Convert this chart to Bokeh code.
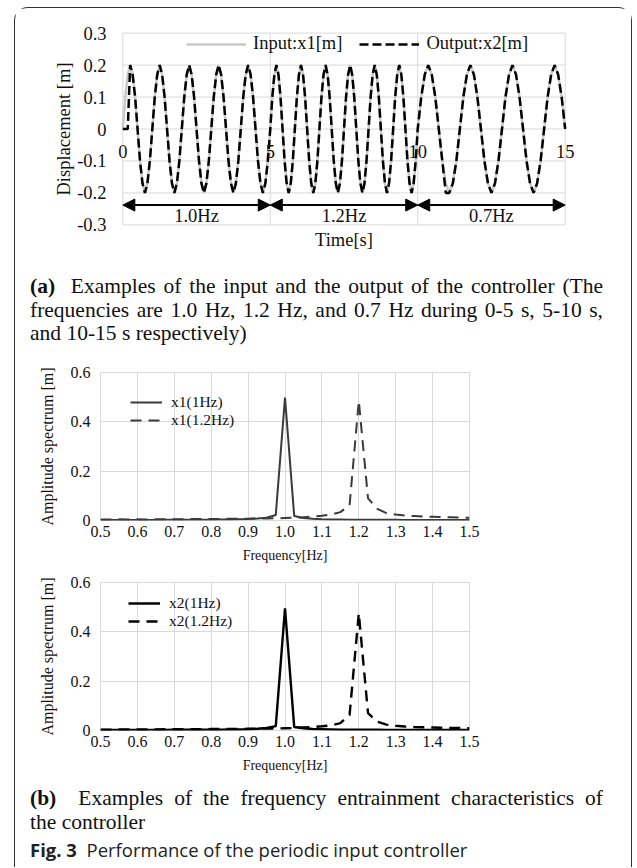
import numpy as np
from bokeh.plotting import figure
from bokeh.models import (ColumnDataSource, Legend, LegendItem, LinearAxis, FixedTicker,
                          CustomJSTickFormatter, Arrow, NormalHead, Div, Range1d)
from bokeh.layouts import column
from bokeh.embed import file_html
from bokeh.resources import INLINE
from bokeh.core.properties import value

SERIF = "Liberation Serif"

# ---------------- (a) time response data ----------------
seg_bounds = [0, 5, 10, 15]
seg_labels = ["1.0Hz", "1.2Hz", "0.7Hz"]
time_ticks = [0, 5, 10, 15]
disp_ticks = [-0.3, -0.2, -0.1, 0, 0.1, 0.2, 0.3]

# sample instants: 12 samples per period in every segment
t_seg1 = np.linspace(0, 5, 61)
t_seg2 = np.linspace(5, 10, 73)[1:]
t_seg3 = np.linspace(10, 15, 43)[1:]

# input x1 [m]
x1_seg1 = [0, .1, .17, .2, .17, .1, 0, -.1, -.17, -.2, -.17, -.1,
           0, .1, .17, .2, .17, .1, 0, -.1, -.17, -.2, -.17, -.1,
           0, .1, .17, .2, .17, .1, 0, -.1, -.17, -.2, -.17, -.1,
           0, .1, .17, .2, .17, .1, 0, -.1, -.17, -.2, -.17, -.1,
           0, .1, .17, .2, .17, .1, 0, -.1, -.17, -.2, -.17, -.1, 0]
x1_seg2 = [.1, .17, .2, .17, .1, 0, -.1, -.17, -.2, -.17, -.1, 0,
           .1, .17, .2, .17, .1, 0, -.1, -.17, -.2, -.17, -.1, 0,
           .1, .17, .2, .17, .1, 0, -.1, -.17, -.2, -.17, -.1, 0,
           .1, .17, .2, .17, .1, 0, -.1, -.17, -.2, -.17, -.1, 0,
           .1, .17, .2, .17, .1, 0, -.1, -.17, -.2, -.17, -.1, 0,
           .1, .17, .2, .17, .1, 0, -.1, -.17, -.2, -.17, -.1, 0]
x1_seg3 = [.1, .17, .2, .17, .1, 0, -.1, -.17, -.2, -.17, -.1, 0,
           .1, .17, .2, .17, .1, 0, -.1, -.17, -.2, -.17, -.1, 0,
           .1, .17, .2, .17, .1, 0, -.1, -.17, -.2, -.17, -.1, 0,
           .1, .17, .2, .17, .1, 0]

# output x2 [m]
x2_seg1 = [0, 0, 0, .2, .17, .1, 0, -.1, -.17, -.2, -.17, -.1,
           0, .1, .17, .2, .17, .1, 0, -.1, -.17, -.2, -.17, -.1,
           0, .1, .17, .2, .17, .1, 0, -.1, -.17, -.2, -.17, -.1,
           0, .1, .17, .2, .17, .1, 0, -.1, -.17, -.2, -.17, -.1,
           0, .1, .17, .2, .17, .1, 0, -.1, -.17, -.2, -.17, -.1, 0]
x2_seg2 = [.1, .17, .2, .17, .1, 0, -.1, -.17, -.2, -.17, -.1, 0,
           .1, .17, .2, .17, .1, 0, -.1, -.17, -.2, -.17, -.1, 0,
           .1, .17, .2, .17, .1, 0, -.1, -.17, -.2, -.17, -.1, 0,
           .1, .17, .2, .17, .1, 0, -.1, -.17, -.2, -.17, -.1, 0,
           .1, .17, .2, .17, .1, 0, -.1, -.17, -.2, -.17, -.1, 0,
           .1, .17, .2, .17, .1, 0, -.1, -.17, -.2, -.17, -.1, 0]
x2_seg3 = [.1, .17, .2, .17, .1, 0, -.1, -.2, -.2, -.17, -.1, 0,
           .1, .17, .2, .17, .1, 0, -.1, -.17, -.2, -.17, -.1, 0,
           .1, .17, .2, .17, .1, 0, -.1, -.17, -.2, -.17, -.1, 0,
           .1, .17, .2, .17, .1, 0]

# ---------------- (b) amplitude spectra data ----------------
freq = [0.5, 0.525, 0.55, 0.575, 0.6, 0.625, 0.65, 0.675, 0.7, 0.725, 0.75,
        0.775, 0.8, 0.825, 0.85, 0.875, 0.9, 0.925, 0.95, 0.975, 1.0,
        1.025, 1.05, 1.075, 1.1, 1.125, 1.15, 1.175, 1.2, 1.225, 1.25,
        1.275, 1.3, 1.325, 1.35, 1.375, 1.4, 1.425, 1.45, 1.475, 1.5]
freq_ticks = [0.5, 0.6, 0.7, 0.8, 0.9, 1.0, 1.1, 1.2, 1.3, 1.4, 1.5]
amp_ticks = [0, 0.2, 0.4, 0.6]

x1_1hz = [.002, .002, .002, .002, .002, .002, .002, .003, .003, .003, .003,
          .003, .003, .004, .004, .005, .006, .008, .011, .022, .498,
          .018, .010, .007, .005, .004, .004, .003, .003, .003, .003,
          .003, .003, .002, .002, .002, .002, .002, .002, .002, .002]
x1_12hz = [.004, .004, .005, .004, .005, .004, .005, .005, .005, .005, .006,
           .006, .006, .006, .007, .007, .007, .008, .008, .009, .010,
           .011, .013, .016, .019, .024, .034, .062, .485, .090, .047,
           .030, .024, .020, .018, .016, .015, .014, .013, .012, .011]
x2_1hz = [.002, .002, .002, .002, .002, .002, .002, .002, .003, .003, .003,
          .003, .003, .003, .004, .004, .005, .007, .010, .018, .495,
          .014, .009, .006, .005, .004, .003, .003, .003, .003, .003,
          .002, .002, .002, .002, .002, .002, .002, .002, .002, .002]
x2_12hz = [.003, .003, .004, .004, .004, .004, .004, .005, .005, .005, .005,
           .005, .006, .006, .006, .006, .007, .007, .008, .008, .009,
           .010, .012, .014, .017, .021, .030, .063, .475, .070, .036,
           .024, .019, .016, .014, .013, .012, .011, .010, .010, .009]

GRID = "#d9d9d9"


def style_axis(ax, size):
    ax.axis_line_color = None
    ax.major_tick_line_color = None
    ax.minor_tick_line_color = None
    ax.major_tick_out = 0
    ax.major_tick_in = 0
    ax.major_label_text_font = SERIF
    ax.major_label_text_font_size = size
    ax.major_label_text_color = "#111111"
    ax.axis_label_text_font = SERIF
    ax.axis_label_text_font_style = "normal"
    ax.axis_label_text_color = "#111111"


# ---------------- figure (a) ----------------
# the frame is a little wider than the 0-15 s grid so that the "0" and "15"
# labels drawn on the zero line are not cut by the frame
p1 = figure(width=616, height=254, x_range=Range1d(-0.35, 15.35), y_range=Range1d(-0.305, 0.305),
            output_backend="svg", toolbar_location=None, frame_align=False,
            min_border_left=97, min_border_right=56, min_border_top=23, min_border_bottom=36)
p1.outline_line_color = None
p1.grid.visible = False
# grid box limited to 0-15 s / -0.3..0.3 m
p1.segment(x0=time_ticks, x1=time_ticks, y0=[disp_ticks[0]] * len(time_ticks),
           y1=[disp_ticks[-1]] * len(time_ticks), line_color=GRID, line_width=1)
p1.segment(x0=[time_ticks[0]] * len(disp_ticks), x1=[time_ticks[-1]] * len(disp_ticks),
           y0=disp_ticks, y1=disp_ticks, line_color=GRID, line_width=1)

# bottom axis: only the title
p1.xaxis.ticker = FixedTicker(ticks=[])
style_axis(p1.xaxis[0], "18.5px")
p1.xaxis.axis_label = "Time[s]"
p1.xaxis.axis_label_text_font_size = "18.5px"
p1.xaxis.major_label_standoff = 0
p1.xaxis.axis_label_standoff = 3

# tick labels sitting on the zero line
ax0 = LinearAxis(fixed_location=0, ticker=FixedTicker(ticks=time_ticks))
style_axis(ax0, "18.5px")
ax0.major_label_standoff = 16
p1.add_layout(ax0, "below")

p1.yaxis.ticker = FixedTicker(ticks=disp_ticks)
p1.yaxis.formatter = CustomJSTickFormatter(code="return Math.abs(tick) < 1e-9 ? '0' : tick.toFixed(1);")
style_axis(p1.yaxis[0], "18.5px")
p1.yaxis.major_label_standoff = 6
p1.yaxis.axis_label = "Displacement [m]"
p1.yaxis.axis_label_text_font_size = "18.5px"
p1.yaxis.axis_label_standoff = 0

t_all = list(t_seg1) + list(t_seg2) + list(t_seg3)
src_a = ColumnDataSource(dict(t=t_all, x1=x1_seg1 + x1_seg2 + x1_seg3, x2=x2_seg1 + x2_seg2 + x2_seg3))
r_in = p1.line("t", "x1", source=src_a, line_color="#c8c8c8", line_width=2.5)
r_out = p1.line("t", "x2", source=src_a, line_color="black", line_width=2.5, line_dash="9 4")

ARROW_Y = -0.238
LABEL_Y = -0.272
arr_src = ColumnDataSource(dict(xs=seg_bounds[:-1], xe=seg_bounds[1:],
                                y=[ARROW_Y] * len(seg_labels)))
arrow = Arrow(source=arr_src, x_start="xs", x_end="xe", y_start="y", y_end="y",
              line_width=2, line_color="black",
              start=NormalHead(size=12, fill_color="black", line_color="black"),
              end=NormalHead(size=12, fill_color="black", line_color="black"))
p1.add_layout(arrow)
mid = [(a + b) / 2 for a, b in zip(seg_bounds[:-1], seg_bounds[1:])]
p1.text(x=mid, y=[LABEL_Y] * len(mid), text=seg_labels, text_align="center",
        text_baseline="middle", text_font=value(SERIF), text_font_size="18.5px",
        text_color="#111111")

leg1 = Legend(items=[LegendItem(label="Input:x1[m]", renderers=[r_in]),
                     LegendItem(label="Output:x2[m]", renderers=[r_out])],
              orientation="horizontal", location=(74, 172), glyph_width=60, glyph_height=16,
              label_height=16, label_standoff=7, spacing=17, padding=0, margin=0,
              background_fill_alpha=0, border_line_alpha=0,
              label_text_font=SERIF, label_text_font_size="18.5px", label_text_color="#111111")
p1.add_layout(leg1)


# ---------------- figures (b) ----------------
def spectrum_fig(height, top, solid_vals, dash_vals, color, lw, labels, loc):
    p = figure(width=616, height=height, x_range=Range1d(0.5, 1.5), y_range=Range1d(0, 0.6),
               output_backend="svg", toolbar_location=None, frame_align=False,
               min_border_left=85, min_border_right=162, min_border_top=top,
               min_border_bottom=height - top - 148)
    p.outline_line_color = GRID
    p.xgrid.ticker = FixedTicker(ticks=freq_ticks)
    p.ygrid.ticker = FixedTicker(ticks=amp_ticks)
    p.grid.grid_line_color = GRID
    p.xaxis.ticker = FixedTicker(ticks=freq_ticks)
    p.xaxis.formatter = CustomJSTickFormatter(code="return tick.toFixed(1);")
    style_axis(p.xaxis[0], "16px")
    p.xaxis.major_label_standoff = 5
    p.xaxis.axis_label = "Frequency[Hz]"
    p.xaxis.axis_label_text_font_size = "14px"
    p.xaxis.axis_label_standoff = 8
    p.yaxis.ticker = FixedTicker(ticks=amp_ticks)
    p.yaxis.formatter = CustomJSTickFormatter(code="return Math.abs(tick) < 1e-9 ? '0' : tick.toFixed(1);")
    style_axis(p.yaxis[0], "16px")
    p.yaxis.major_label_standoff = 10
    p.yaxis.axis_label = "Amplitude spectrum [m]"
    p.yaxis.axis_label_text_font_size = "16px"
    p.yaxis.axis_label_standoff = 12
    src = ColumnDataSource(dict(f=freq, a=solid_vals, b=dash_vals))
    rs = p.line("f", "a", source=src, line_color=color, line_width=lw)
    rd = p.line("f", "b", source=src, line_color=color, line_width=lw, line_dash="11 7")
    leg = Legend(items=[LegendItem(label=labels[0], renderers=[rs]),
                        LegendItem(label=labels[1], renderers=[rd])],
                 location=loc, glyph_width=32, glyph_height=14, label_height=14,
                 label_standoff=9, spacing=0, padding=0, margin=0,
                 background_fill_alpha=0, border_line_alpha=0,
                 label_text_font=SERIF, label_text_font_size="15.5px", label_text_color="#111111")
    p.add_layout(leg)
    return p


p2 = spectrum_fig(218, 22, x1_1hz, x1_12hz, "#3a3a3a", 2, ["x1(1Hz)", "x1(1.2Hz)"], (30, 91))
p3 = spectrum_fig(212, 14, x2_1hz, x2_12hz, "black", 2.4, ["x2(1Hz)", "x2(1.2Hz)"], (28, 100))

# ---------------- captions ----------------
CAP = ("font-family:'Liberation Serif',serif;font-size:21.5px;line-height:23.5px;color:#111;"
       "box-sizing:border-box;width:616px;")
J = "text-align:justify;text-align-last:justify;"
div_a = Div(width=616, height=88, margin=0, text=(
    f"<div style=\"{CAP}padding:13px 28px 0 15px;\">"
    f"<div style=\"{J}\"><b>(a)</b>&nbsp; Examples of the input and the output of the controller (The</div>"
    f"<div style=\"{J}\">frequencies are 1.0 Hz, 1.2 Hz, and 0.7 Hz during 0-5 s, 5-10 s,</div>"
    "<div>and 10-15 s respectively)</div></div>"))
div_b = Div(width=616, height=55, margin=0, text=(
    f"<div style=\"{CAP}padding:7px 28px 0 15px;\">"
    f"<div style=\"{J}\"><b>(b)</b>&nbsp; Examples of the frequency entrainment characteristics of</div>"
    "<div>the controller</div></div>"))
div_c = Div(width=616, height=32, margin=0, text=(
    "<div style=\"font-family:'Open Sans',sans-serif;font-size:18.5px;line-height:18px;"
    "color:#222;padding:6px 0 0 15px;white-space:nowrap;\">"
    "<b>Fig. 3</b>&nbsp; Performance of the periodic input controller</div>"))

layout = column(p1, div_a, p2, p3, div_b, div_c, spacing=0,
                styles={"border": "1.5px solid #333", "border-bottom": "none",
                        "border-radius": "14px 14px 0 0", "margin-left": "14px",
                        "margin-top": "7px", "box-sizing": "content-box"})

open("out.html", "w").write(file_html(layout, INLINE))
